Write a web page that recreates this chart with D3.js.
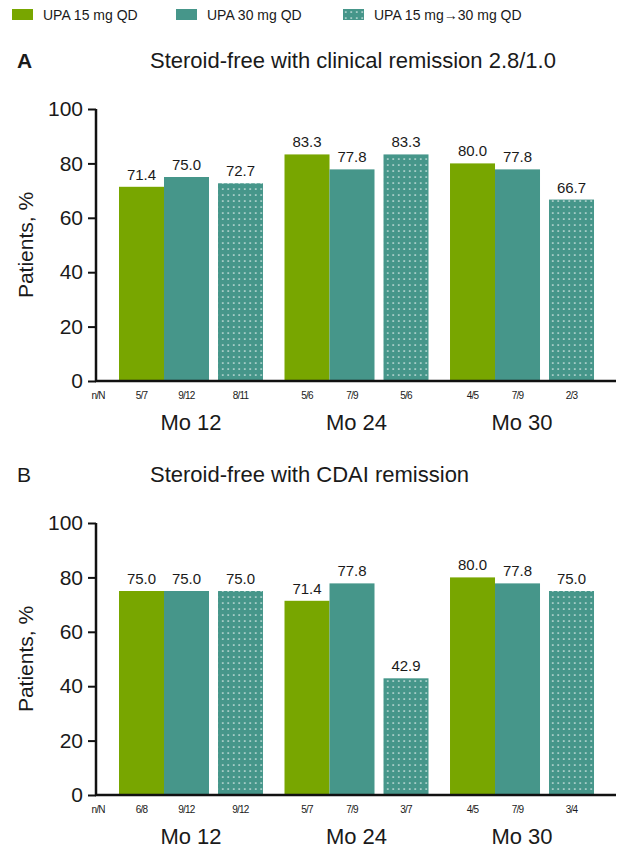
<!DOCTYPE html>
<html>
<head>
<meta charset="utf-8">
<script src="https://cdn.jsdelivr.net/npm/d3@7"></script>
<style>
  body { margin: 0; background: #fff; }
  text { font-family: "Liberation Sans", Arial, sans-serif; fill: #1a1a1a; }
</style>
</head>
<body>
<script>
var width = 633, height = 848;

// data
var series = ["UPA 15 mg QD", "UPA 30 mg QD", "UPA 15 mg\u219230 mg QD"];
var months = ["Mo 12", "Mo 24", "Mo 30"];
var yTicks = [0, 20, 40, 60, 80, 100];

var valuesA = [[71.4, 75.0, 72.7], [83.3, 77.8, 83.3], [80.0, 77.8, 66.7]];
var nnA = [["5/7", "9/12", "8/11"], ["5/6", "7/9", "5/6"], ["4/5", "7/9", "2/3"]];
var valuesB = [[75.0, 75.0, 75.0], [71.4, 77.8, 42.9], [80.0, 77.8, 75.0]];
var nnB = [["6/8", "9/12", "9/12"], ["5/7", "7/9", "3/7"], ["4/5", "7/9", "3/4"]];

var green = "#78a600", teal = "#46968a";

var svg = d3.select("body").append("svg")
    .attr("width", width).attr("height", height);

var defs = svg.append("defs");
var pat = defs.append("pattern").attr("id", "dots")
    .attr("patternUnits", "userSpaceOnUse").attr("width", 5.5).attr("height", 6);
pat.append("rect").attr("width", 5.5).attr("height", 6).attr("fill", teal);
pat.append("circle").attr("cx", 2.75).attr("cy", 3).attr("r", 0.85).attr("fill", "#fff").attr("opacity", 0.85);

var fills = [green, teal, "url(#dots)"];

// legend
var legX = d3.scaleOrdinal().domain(series).range([12, 176, 343]);
var leg = svg.append("g").selectAll("g").data(series).enter().append("g")
    .attr("transform", function(d){ return "translate(" + legX(d) + ",9)"; });
leg.append("rect").attr("width", 21).attr("height", 11)
    .attr("fill", function(d, i){ return fills[i]; });
leg.append("text").attr("x", 31).attr("y", 10.5)
    .style("font-size", "14px").text(function(d){ return d; });

var x0 = d3.scaleBand().domain(months).range([119, 594]).paddingInner(0.13).paddingOuter(0);
var x1 = d3.scaleBand().domain(series).range([0, 135]);
var gap = 9;
function barX(m, s, i) { return x0(m) + x1(s) + (i === 2 ? gap : 0); }

function drawPanel(top, letter, bold, title, values, nn) {
    var g = svg.append("g");
    var y = d3.scaleLinear().domain([0, 100]).range([top + 272, top]);
    var base = y(0);

    g.append("text").attr("x", 17).attr("y", top - 41)
        .style("font-size", "21px").style("font-weight", bold ? "bold" : "normal").text(letter);
    g.append("text").attr("x", 150).attr("y", top - 41)
        .style("font-size", "22px").text(title);

    // bars
    months.forEach(function(m, gi) {
        var grp = g.append("g");
        grp.selectAll("rect").data(values[gi]).enter().append("rect")
            .attr("x", function(d, i){ return barX(m, series[i], i); })
            .attr("width", x1.bandwidth())
            .attr("y", function(d){ return y(d); })
            .attr("height", function(d){ return base - y(d); })
            .attr("fill", function(d, i){ return fills[i]; });
        grp.selectAll("text.val").data(values[gi]).enter().append("text").classed("val", true)
            .attr("x", function(d, i){ return barX(m, series[i], i) + x1.bandwidth() / 2; })
            .attr("y", function(d){ return y(d) - 7; })
            .attr("text-anchor", "middle").style("font-size", "15px")
            .text(function(d){ return d.toFixed(1); });
        grp.selectAll("text.nn").data(nn[gi]).enter().append("text").classed("nn", true)
            .attr("x", function(d, i){ return barX(m, series[i], i) + x1.bandwidth() / 2; })
            .attr("y", base + 18)
            .attr("text-anchor", "middle").style("font-size", "10px").style("letter-spacing", "-0.8px")
            .text(function(d){ return d; });
        grp.append("text").attr("x", x0(m) + x0.bandwidth() / 2).attr("y", base + 49)
            .attr("text-anchor", "middle").style("font-size", "22px").text(m);
    });

    g.append("text").attr("x", 98).attr("y", base + 18).attr("text-anchor", "middle")
        .style("font-size", "10px").style("letter-spacing", "-0.8px").text("n/N");

    // axes
    var yAxis = d3.axisLeft(y).tickValues(yTicks).tickSize(8).tickPadding(5).tickFormat(d3.format("d"));
    var ya = g.append("g").attr("transform", "translate(96,0)").call(yAxis);
    ya.select(".domain").attr("d", "M0," + y(100) + "V" + base).attr("stroke", "#111").attr("stroke-width", 2.5);
    ya.selectAll(".tick line").attr("stroke", "#111").attr("stroke-width", 2);
    ya.selectAll(".tick text").style("font-size", "21px").attr("fill", "#1a1a1a")
        .style("font-family", "'Liberation Sans', Arial, sans-serif");

    g.append("line").attr("x1", 95).attr("x2", 616).attr("y1", base).attr("y2", base)
        .attr("stroke", "#111").attr("stroke-width", 2.5);

    g.append("text").attr("transform", "translate(33," + ((y(100) + base) / 2) + ") rotate(-90)")
        .attr("text-anchor", "middle").style("font-size", "21px").text("Patients, %");
}

drawPanel(109, "A", true, "Steroid-free with clinical remission 2.8/1.0", valuesA, nnA);
drawPanel(523, "B", false, "Steroid-free with CDAI remission", valuesB, nnB);
</script>
</body>
</html>
